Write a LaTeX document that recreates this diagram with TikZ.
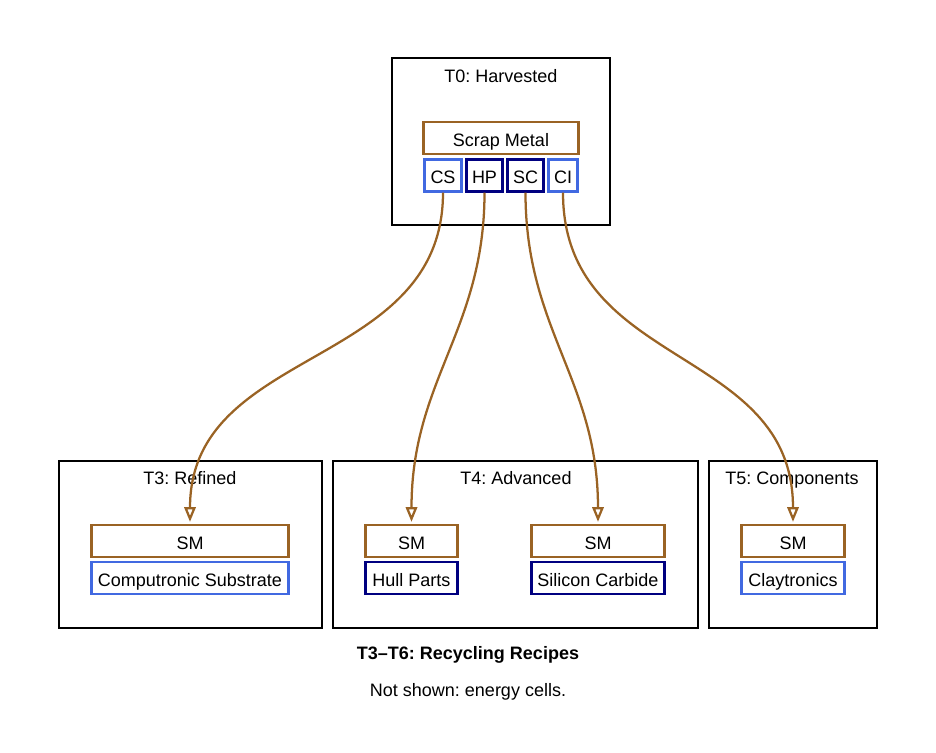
\documentclass[tikz,border=0pt]{standalone}
\usepackage{fontspec}
\setmainfont{Liberation Sans}
\usetikzlibrary{arrows.meta, positioning}
\definecolor{scrap}{RGB}{154,99,36}
\definecolor{lightblue}{RGB}{65,105,225}
\definecolor{darkblue}{RGB}{0,0,128}
\frenchspacing

\begin{document}
\begin{tikzpicture}[x=0.75pt,y=-0.75pt,font=\fontsize{13.5}{16}\selectfont]

\tikzset{cluster/.style = {draw, line width=0.8pt}}
\tikzset{label text/.style = {inner sep=0pt, text height=13.5pt, text depth=1.5pt}}
\tikzset{item/.style = {draw, label text, line width=1.7pt, minimum height=24pt, minimum width=#1*0.75pt}}
\tikzset{edge/.style = {-{Triangle[open,length=11pt,width=8.5pt]}, draw=scrap, line width=1.7pt, shorten >=1.5pt}}
\useasboundingbox (0,0) rectangle (936,753);
% clusters
\draw[cluster] (392,58) rectangle (610,225);
\draw[cluster] (59,461) rectangle (322,628);
\draw[cluster] (333,461) rectangle (698,628);
\draw[cluster] (709,461) rectangle (877,628);
\node[label text] (t0) at (501,74) {T0: Harvested};
\node[label text] (t3) at (190,476) {T3: Refined};
\node[label text] (t4) at (516,476) {T4: Advanced};
\node[label text] (t5) at (792,476) {T5: Components};
% vertices
\node[item=155, draw=scrap] (sm0) at (501,138) {Scrap Metal};
\node[item=37, draw=lightblue] (cs) at (443,175.5) {CS};
\node[item=36, draw=darkblue] (hp) at (484.5,175.5) {HP};
\node[item=36, draw=darkblue] (sc) at (525.5,175.5) {SC};
\node[item=29, draw=lightblue] (ci) at (563,175.5) {CI};
\node[item=197, draw=scrap] (sm3) at (190,541) {SM};
\node[item=197, draw=lightblue] (cs3) at (190,578) {Computronic Substrate};
\node[item=92, draw=scrap] (sm4a) at (411.5,541) {SM};
\node[item=92, draw=darkblue] (hull) at (411.5,578) {Hull Parts};
\node[item=133, draw=scrap] (sm4b) at (598,541) {SM};
\node[item=133, draw=darkblue] (sic) at (598,578) {Silicon Carbide};
\node[item=103, draw=scrap] (sm5) at (793,541) {SM};
\node[item=103, draw=lightblue] (clay) at (793,578) {Claytronics};
%edges
\draw[edge] (cs.south) .. controls (443,370) and (190,345) .. (sm3.north);
\draw[edge] (hp.south) .. controls (484.5,330) and (411.5,380) .. (sm4a.north);
\draw[edge] (sc.south) .. controls (525.5,330) and (598,380) .. (sm4b.north);
\draw[edge] (ci.south) .. controls (563,370) and (793,345) .. (sm5.north);
% caption
\node[label text, font=\fontsize{13.5}{16}\selectfont\bfseries] (title) at (468,651) {T3–T6: Recycling Recipes};
\node[label text] (note) at (468,688) {Not shown: energy cells.};
\end{tikzpicture}
\end{document}
